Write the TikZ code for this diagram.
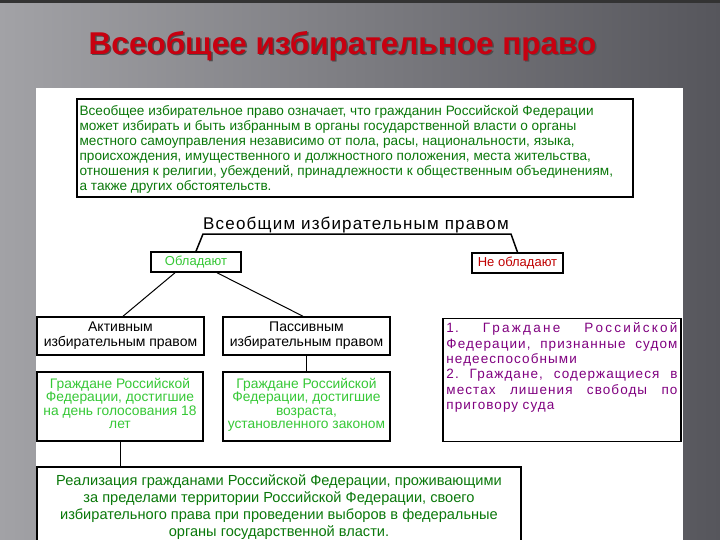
\documentclass[tikz,border=0pt]{standalone}
\usepackage{fontspec}
\setmainfont{Liberation Sans}
\newfontfamily\spaced[LetterSpace=8]{Liberation Sans}
\newfontfamily\spacedh[LetterSpace=7]{Liberation Sans}
\usetikzlibrary{calc}
\definecolor{dgreen}{HTML}{0A780A}
\definecolor{lgreen}{HTML}{36C836}
\definecolor{purp}{HTML}{800080}
\definecolor{titlered}{HTML}{C80010}
\definecolor{nred}{HTML}{C00000}
\definecolor{bgl}{HTML}{A2A2A6}
\definecolor{bgr}{HTML}{56565C}
\newcommand{\jline}[1]{\makebox[231pt][l]{#1}}
\begin{document}
\begin{tikzpicture}[x=1pt,y=-1pt,
  box/.style={draw=black, line width=1.5pt, inner sep=0pt},
  conn/.style={draw=black, line width=1pt},
  titlefont/.style={font=\fontsize{31.5}{32}\selectfont\bfseries},
  bodytext/.style={font=\fontsize{13.6}{15}\selectfont}]
\useasboundingbox (0,0) rectangle (720,540);
\clip (0,0) rectangle (720,540);
% slide background
\shade[left color=bgl, right color=bgr] (0,0) rectangle (720,540);
\fill[black!80] (0,0) rectangle (720,3);
% title with shadow
\node (titleshadow) [titlefont, text=black!70] at (344,47.5) {Всеобщее избирательное право};
\node (title) [titlefont, text=titlered] at (342.5,46) {Всеобщее избирательное право};
% white panel
\fill[white] (36,88) rectangle (683,545);
% top box
\node (def) [box, line width=1.2pt, minimum width=556, minimum height=98] at (355,148) {};
\node (deftext) [anchor=north west, inner sep=0pt, align=left, bodytext, text=dgreen] at ($(def.north west)+(3,7)$)
{Всеобщее избирательное право означает, что гражданин Российской Федерации\\
может избирать и быть избранным в органы государственной власти о органы\\
местного самоуправления независимо от пола, расы, национальности, языка,\\
происхождения, имущественного и должностного положения, места жительства,\\
отношения к религии, убеждений, принадлежности к общественным объединениям,\\
а также других обстоятельств.};
% heading
\node (all) [font=\fontsize{17}{18}\selectfont\spacedh] at (356,225) {Всеобщим избирательным правом};
\coordinate (bl) at (203,234);
\coordinate (br) at (511,234);
% first level
\node (obl) [box, minimum width=90, minimum height=20, font=\fontsize{13}{14}\selectfont, text=lgreen] at (196,262) {Обладают};
\node (neobl) [box, minimum width=91, minimum height=20, font=\fontsize{13}{14}\selectfont, text=nred] at (517.5,263) {Не обладают};
\draw[conn, line width=1.5pt] (obl.north) -- (bl) -- (br) -- (neobl.north);
% second level
\node (act) [box, minimum width=167, minimum height=38, align=center, font=\fontsize{14}{15}\selectfont] at (120.5,336) {Активным\\избирательным правом};
\node (pas) [box, minimum width=167, minimum height=38, align=center, font=\fontsize{14}{15}\selectfont] at (306.5,336) {Пассивным\\избирательным правом};
\draw[conn] ($(obl.south)+(-21,0)$) -- ($(act.north)+(2.5,0)$);
\draw[conn] ($(obl.south)+(21,0)$) -- ($(pas.north)+(-3.5,0)$);
% green boxes
\node (g1) [box, minimum width=166, minimum height=69, align=center, font=\fontsize{13.8}{13.5}\selectfont, text=lgreen] at (120,406.5) {Граждане Российской\\Федерации, достигшие\\на день голосования 18\\лет\rule[-6pt]{0pt}{6pt}};
\node (g2) [box, minimum width=167, minimum height=69, align=center, font=\fontsize{13.8}{13.5}\selectfont, text=lgreen] at (306.5,406.5) {Граждане Российской\\Федерации, достигшие\\возраста,\\установленного законом\rule[-6pt]{0pt}{6pt}};
\draw[conn] ($(act.south)+(1.5,0)$) -- ($(act.south)+(1.5,0)$ |- g1.north);
\draw[conn] (pas.south) -- (pas.south |- g2.north);
% right box
\node (rbox) [box, minimum width=238, minimum height=123] at (562,380) {};
\draw[conn] ($(neobl.south)+(1.5,0)$) -- ($(neobl.south)+(1.5,0)$ |- rbox.north);
\node (rtext) [anchor=north west, inner sep=0pt, text width=231, align=left, font=\fontsize{13.5}{15.3}\selectfont\spaced, text=purp] at ($(rbox.north west)+(4,5)$)
{\jline{1.\hfill Г\,р\,а\,ж\,д\,а\,н\,е\hfill Р\,о\,с\,с\,и\,й\,с\,к\,о\,й}\\
\jline{Федерации,\hfill признанные\hfill судом}\\
недееспособными\\
\jline{2.\hfill Граждане,\hfill содержащиеся\hfill в}\\
\jline{местах\hfill лишения\hfill свободы\hfill по}\\
приговору суда};
% bottom box
\node (bot) [box, minimum width=484, minimum height=80, align=center, font=\fontsize{14.6}{17}\selectfont, text=dgreen] at (279,507)
{Реализация гражданами Российской Федерации, проживающими\\
за пределами территории Российской Федерации, своего\\
избирательного права при проведении выборов в федеральные\\
органы государственной власти.};
\draw[conn] (g1.south) -- (g1.south |- bot.north);
\end{tikzpicture}
\end{document}
